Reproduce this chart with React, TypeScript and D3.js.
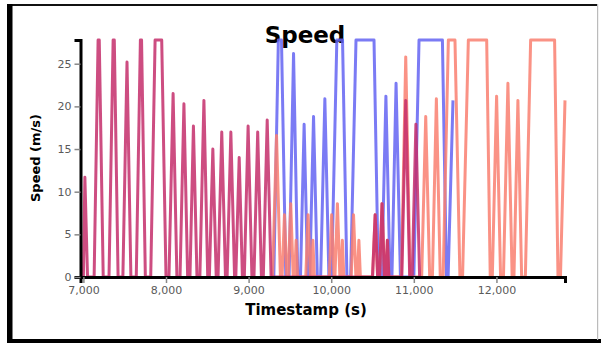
import React, { useEffect, useRef } from 'react';
import * as d3 from 'd3';

// speed traces, [timestamp (s), speed (m/s)]
const crimsonPoints: [number, number][] = [
  [6965, 0], [7000, 0], [7018, 11.7], [7050, 0],
  [7130, 0], [7178, 27.78], [7192, 27.78], [7240, 0],
  [7310, 0], [7360, 27.78], [7374, 27.78], [7420, 0],
  [7478, 0], [7528, 25.2], [7575, 0],
  [7640, 0], [7690, 27.78], [7704, 27.78], [7750, 0],
  [7815, 0], [7868, 27.78], [7948, 27.78], [8000, 0],
  [8036, 0], [8086, 21.5], [8132, 0],
  [8170, 0], [8217, 20.3], [8262, 0],
  [8290, 0], [8332, 17.7], [8375, 0],
  [8410, 0], [8459, 20.7], [8505, 0],
  [8525, 0], [8567, 15.0], [8608, 0],
  [8630, 0], [8675, 17.0], [8720, 0],
  [8740, 0], [8785, 17.0], [8830, 0],
  [8845, 0], [8886, 14.0], [8925, 0],
  [8948, 0], [8994, 17.7], [9040, 0],
  [9065, 0], [9110, 17.0], [9155, 0],
  [9178, 0], [9225, 18.4], [9272, 0],
  [10500, 0], [10532, 7.3], [10562, 0], [10585, 0], [10615, 8.6], [10645, 0],
  [10662, 0], [10680, 4.3], [10698, 0],
  [10855, 0], [10902, 20.7], [10950, 0],
  [10980, 0], [11025, 17.9], [11070, 0],
];

const bluePoints: [number, number][] = [
  [9305, 0], [9360, 27.78], [9398, 27.78], [9450, 0],
  [9490, 0], [9544, 26.2], [9595, 0],
  [9628, 0], [9672, 17.9], [9715, 0],
  [9740, 0], [9786, 18.8], [9832, 0],
  [9872, 0], [9923, 20.9], [9972, 0],
  [10005, 0], [10068, 27.78], [10137, 27.78], [10190, 0],
  [10235, 0], [10300, 27.78], [10518, 27.78], [10570, 0],
  [10612, 0], [10662, 21.2], [10712, 0],
  [10735, 0], [10785, 22.7], [10838, 0],
  [11000, 0], [11063, 27.78], [11346, 27.78], [11395, 0],
  [11415, 0], [11474, 20.7],
];

const salmonPoints: [number, number][] = [
  [9290, 0], [9338, 16.6], [9385, 0],
  [9405, 0], [9434, 7.3], [9463, 0], [9480, 0], [9510, 8.6], [9540, 0],
  [9558, 0], [9575, 4.3], [9593, 0],
  [9692, 0], [9720, 7.3], [9749, 0], [9760, 0], [9778, 4.3], [9796, 0],
  [9977, 0], [10005, 7.3], [10034, 0], [10045, 0], [10075, 8.6], [10105, 0],
  [10117, 0], [10135, 4.3], [10153, 0],
  [10242, 0], [10270, 7.3], [10299, 0], [10317, 0], [10335, 4.3], [10353, 0],
  [10500, 0], [10532, 7.3], [10562, 0], [10585, 0], [10615, 8.6], [10645, 0],
  [10662, 0], [10680, 4.3], [10698, 0],
  [10850, 0], [10902, 25.8], [10955, 0],
  [11095, 0], [11144, 18.8], [11192, 0],
  [11225, 0], [11273, 20.9], [11320, 0],
  [11355, 0], [11418, 27.78], [11498, 27.78], [11558, 0],
  [11590, 0], [11660, 27.78], [11882, 27.78], [11925, 0],
  [11950, 0], [12002, 21.2], [12050, 0],
  [12085, 0], [12139, 22.7], [12190, 0],
  [12212, 0], [12260, 20.7], [12305, 0],
  [12350, 0], [12414, 27.78], [12704, 27.78], [12745, 0],
  [12775, 0], [12830, 20.7],
];

const series = [
  { name: 'blue', color: '#6464f2', points: bluePoints },
  { name: 'salmon', color: '#f97f70', points: salmonPoints },
  { name: 'crimson', color: '#c42e6b', points: crimsonPoints },
];

const App = () => {
  const svgRef = useRef<SVGSVGElement>(null);

  useEffect(() => {
    const svg = d3.select(svgRef.current);
    svg.selectAll('*').remove();

    const width = 601;
    const height = 343;
    const margin = { top: 40, right: 36, bottom: 66, left: 80.5 };

    // frame
    svg.append('rect').attr('width', width).attr('height', height).attr('fill', '#fff');
    svg.append('rect').attr('x', 7).attr('y', 4).attr('width', 591).attr('height', 2).attr('fill', '#111');
    svg.append('rect').attr('x', 7).attr('y', 4).attr('width', 5.5).attr('height', 339).attr('fill', '#000');
    svg.append('rect').attr('x', 7).attr('y', 339).attr('width', 594).attr('height', 4).attr('fill', '#000');
    svg.append('rect').attr('x', 597).attr('y', 4).attr('width', 1.2).attr('height', 336).attr('fill', '#bbb');

    const all = series.flatMap((s) => s.points);
    const x = d3
      .scaleLinear()
      .domain(d3.extent(all, (d) => d[0]) as [number, number])
      .range([margin.left, width - margin.right]);
    const y = d3
      .scaleLinear()
      .domain([0, d3.max(all, (d) => d[1]) as number])
      .range([height - margin.bottom, margin.top]);

    // title
    svg
      .append('text')
      .attr('x', 305)
      .attr('y', 43)
      .attr('text-anchor', 'middle')
      .style('font-family', 'DejaVu Sans')
      .style('font-weight', 'bold')
      .style('font-size', '23px')
      .text('Speed');

    const line = d3
      .line<[number, number]>()
      .x((d) => x(d[0]))
      .y((d) => y(d[1]));

    svg
      .append('g')
      .selectAll('path')
      .data(series)
      .enter()
      .append('path')
      .attr('d', (d) => line(d.points))
      .attr('fill', 'none')
      .attr('stroke', (d) => d.color)
      .attr('stroke-width', 3)
      .attr('stroke-opacity', 0.85)
      .attr('stroke-linejoin', 'round');

    // axes
    const xAxis = svg
      .append('g')
      .attr('transform', `translate(0,${height - margin.bottom})`)
      .call(d3.axisBottom(x).ticks(6).tickFormat(d3.format(',')));
    const yAxis = svg
      .append('g')
      .attr('transform', `translate(${margin.left},0)`)
      .call(d3.axisLeft(y).ticks(5));

    [xAxis, yAxis].forEach((g) => {
      g.select('.domain').attr('stroke', '#000').attr('stroke-width', 3);
      g.selectAll('.tick line').attr('stroke', '#888').attr('stroke-width', 1.5);
      g.selectAll('.tick text')
        .attr('fill', '#5a5a5a')
        .style('font-family', 'DejaVu Sans')
        .style('font-size', '11px');
    });

    svg
      .append('text')
      .attr('x', 306)
      .attr('y', 315)
      .attr('text-anchor', 'middle')
      .style('font-family', 'DejaVu Sans')
      .style('font-weight', 'bold')
      .style('font-size', '15px')
      .text('Timestamp (s)');

    svg
      .append('text')
      .attr('transform', 'translate(40,158) rotate(-90)')
      .attr('text-anchor', 'middle')
      .style('font-family', 'DejaVu Sans')
      .style('font-weight', 'bold')
      .style('font-size', '13px')
      .text('Speed (m/s)');
  }, []);

  return (
    <div style={{ position: 'absolute', left: 0, top: 0 }}>
      <svg ref={svgRef} width={601} height={343} style={{ display: 'block' }} />
    </div>
  );
};

export default App;
